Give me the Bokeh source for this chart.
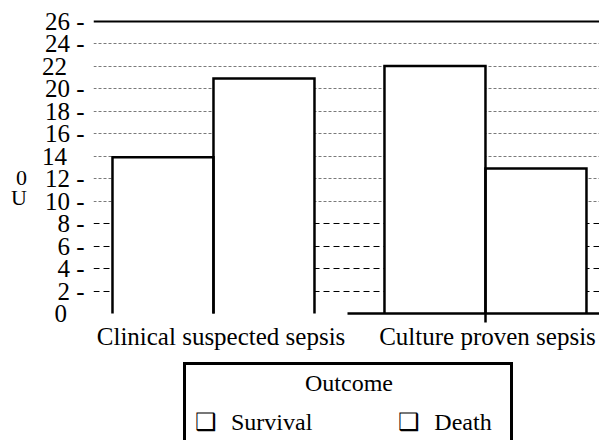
from bokeh.plotting import figure
from bokeh.models import (ColumnDataSource, FixedTicker, LinearAxis, Grid, Legend,
                          LegendItem, Range1d, AllLabels)
from bokeh.embed import file_html
from bokeh.resources import INLINE

# ---- data ----
categories = ["Clinical suspected sepsis", "Culture proven sepsis"]
outcomes = ["Survival", "Death"]
survival = [13.9, 22.0]
death = [20.9, 12.9]
y_ticks = [0, 2, 4, 6, 8, 10, 12, 14, 16, 18, 20, 22, 24, 26]
y_ticks_with_dash = [2, 4, 6, 8, 10, 12, 16, 18, 20, 24, 26]
y_axis_title = "0\nU"
legend_title = "Outcome"

# ---- layout constants ----
GAP = 0.693
LABEL_SHIFT = 0.075
FONT = "Liberation Serif"
PAD = "\u00a0\u00a0\u2009"
NB = "\u00a0"

lefts, rights, tops = [], [], []
for i, cat in enumerate(categories):
    for j, vals in enumerate([survival, death]):
        x0 = i * (2 + GAP) + j
        lefts.append(x0)
        rights.append(x0 + 1)
        tops.append(vals[i])
bottoms = [0] * len(tops)
xs = [[l, l, r, r] for l, r in zip(lefts, rights)]
ys = [[b, t, t, b] for b, t in zip(bottoms, tops)]
src = ColumnDataSource(dict(left=lefts, right=rights, top=tops, bottom=bottoms, xs=xs, ys=ys))

centers = [i * (2 + GAP) + 1 for i in range(len(categories))]

p = figure(width=599, height=440, output_backend="svg", toolbar_location=None,
           x_range=Range1d(-0.188, 4.822), y_range=Range1d(-11.29, 26.58),
           x_axis_type=None, min_border_left=93, min_border_right=0,
           min_border_top=14, min_border_bottom=0)
p.outline_line_color = None
p.background_fill_color = "white"
p.xgrid.visible = False
p.ygrid.visible = False

# grids
p.add_layout(Grid(dimension=1, ticker=FixedTicker(ticks=[t for t in y_ticks if 10 <= t <= 24]),
                  grid_line_color="#7a7a7a", grid_line_dash="3 2", grid_line_width=1))
p.add_layout(Grid(dimension=1, ticker=FixedTicker(ticks=[t for t in y_ticks if 0 < t < 10]),
                  grid_line_color="black", grid_line_dash="6 4", grid_line_width=1.2))
p.add_layout(Grid(dimension=1, ticker=FixedTicker(ticks=[y_ticks[-1]]),
                  grid_line_color="black", grid_line_width=2))

# bars
bars = p.quad(left="left", right="right", top="top", bottom="bottom", source=src,
              fill_color="white", line_color=None)
p.multi_line("xs", "ys", source=src, line_color="black", line_width=2.5, line_join="miter")

# y axis
ya = p.yaxis[0]
ya.ticker = FixedTicker(ticks=y_ticks)
ya.major_label_policy = AllLabels()
ya.major_label_overrides = {t: (f"{t} -" if t in y_ticks_with_dash else f"{t}{PAD}") for t in y_ticks}
ya.axis_line_color = None
ya.major_tick_line_color = None
ya.minor_tick_line_color = None
ya.major_tick_out = 0
ya.major_tick_in = 0
ya.major_label_standoff = 9
ya.major_label_text_font = FONT
ya.major_label_text_font_size = "25px"
ya.major_label_text_color = "black"
ya.axis_label = y_axis_title + ("\n" + NB) * 4
ya.axis_label_orientation = "horizontal"
ya.axis_label_text_font = FONT
ya.axis_label_text_font_size = "22px"
ya.axis_label_text_font_style = "normal"
ya.axis_label_text_color = "black"
ya.axis_label_text_line_height = 0.8
ya.axis_label_standoff = 12

# x axis line (partial) with the tick and label of the second category
xa1 = LinearAxis(ticker=FixedTicker(ticks=[centers[1]]), bounds=(2.327, 4.822), fixed_location=0,
                 major_label_overrides={centers[1]: NB * 3 + categories[1]},
                 axis_line_width=2.5, axis_line_color="black",
                 major_tick_out=9, major_tick_in=0, major_tick_line_width=2.5,
                 major_tick_line_color="black", minor_tick_line_color=None,
                 major_label_standoff=1, major_label_text_font=FONT,
                 major_label_text_font_size="25px", major_label_text_color="black")
p.add_layout(xa1, "below")

# label of the first category (no axis line under it)
xa2 = LinearAxis(ticker=FixedTicker(ticks=[centers[0] + LABEL_SHIFT]), fixed_location=0,
                 major_label_overrides={centers[0] + LABEL_SHIFT: categories[0]},
                 axis_line_color=None, major_tick_line_color=None, minor_tick_line_color=None,
                 major_tick_out=0, major_tick_in=0, major_label_standoff=10,
                 major_label_text_font=FONT, major_label_text_font_size="25px",
                 major_label_text_color="black")
p.add_layout(xa2, "below")

# legend
items = [LegendItem(label="\u2751\u2002\u200a" + o, renderers=[bars], index=k)
         for k, o in enumerate(outcomes)]
legend = Legend(items=items, location=(90, -4), orientation="horizontal",
                title=NB * 19 + legend_title,
                title_text_font=FONT, title_text_font_size="24px", title_text_font_style="normal",
                title_text_color="black", title_standoff=11,
                label_text_font=FONT, label_text_font_size="24px", label_text_color="black",
                glyph_width=4, glyph_height=20, label_standoff=0,
                label_width=107, spacing=82, padding=5,
                border_line_color="black", border_line_width=3, border_line_alpha=1,
                background_fill_color="white", background_fill_alpha=1)
p.add_layout(legend, "center")

open("out.html", "w").write(file_html(p, INLINE))
